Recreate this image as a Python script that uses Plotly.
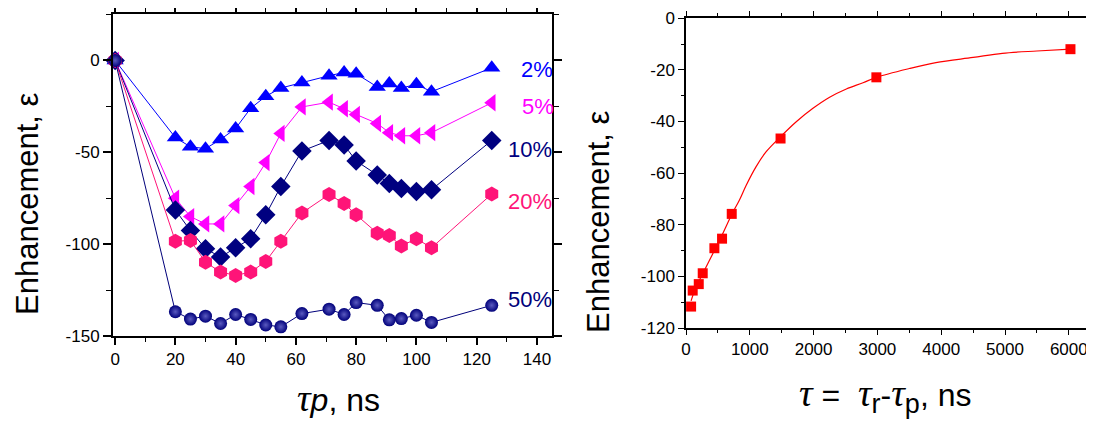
import plotly.graph_objects as go

# ---------------- data: left panel ----------------
tau_p = [0, 20, 25, 30, 35, 40, 45, 50, 55, 62, 71, 76, 80, 87, 91, 95, 100, 105, 125]
eps_2 = [0, -42, -47, -48, -43, -37, -26, -19.5, -15, -12, -8.3, -6.5, -7.2, -14.4, -12.5, -15, -13, -17, -4]
eps_5 = [0, -75, -85, -89, -89, -79, -68.6, -55.6, -39.7, -25.3, -22.7, -26.3, -29.4, -34.3, -39.3, -41, -41, -39.3, -23]
eps_10 = [0, -81.4, -92.6, -102.5, -107, -102, -97, -84, -68.6, -49.3, -43.5, -46, -54.7, -62.3, -67, -69.7, -71.3, -70.4, -43.5]
eps_20 = [0, -98.4, -98, -109.8, -115.2, -117, -115.2, -109.4, -98.4, -83, -73, -77.8, -84, -94, -95.3, -101, -97, -102, -72.7]
eps_50 = [0, -136.8, -140.8, -139.2, -143.2, -138.3, -141, -144, -145, -137.8, -135.4, -138.3, -131.8, -133.3, -141.2, -140.5, -138.7, -142.6, -133.3]
series_names = ["2%", "5%", "10%", "20%", "50%"]

# ---------------- data: right panel ----------------
tau = [80, 105, 200, 262, 445, 565, 717, 1482, 2984, 6026]
eps_tau = [-111.7, -105.5, -103, -98.8, -89.1, -85.4, -75.8, -46.6, -22.9, -12]
fit_x = [80, 150, 262, 445, 565, 717, 838, 942, 1099, 1257, 1482, 1728, 1990, 2251, 2513,
         2775, 2984, 3500, 3917, 4500, 4958, 5500, 6026]
fit_y = [-109.5, -104.5, -99, -90, -84, -76, -70.4, -64.8, -57.5, -51.7, -45.9, -40.1, -34.9,
         -30.6, -27.4, -25, -22.9, -19.5, -17.2, -15.2, -13.6, -12.7, -12]

left_yticks = [0, -50, -100, -150]
left_xticks = [0, 20, 40, 60, 80, 100, 120, 140]
right_yticks = [0, -20, -40, -60, -80, -100, -120]
right_xticks = [0, 1000, 2000, 3000, 4000, 5000, 6000]

FONT = "Liberation Sans, Arial, sans-serif"

styles = [
    dict(symbol="triangle-up", color="#0000FF", size=15),
    dict(symbol="triangle-left", color="#FF00FF", size=15),
    dict(symbol="diamond", color="#000080", size=15),
    dict(symbol="hexagon", color="#FF1478", size=15),
    dict(symbol="circle", color="#00007A", size=13),
]
ys = [eps_2, eps_5, eps_10, eps_20, eps_50]

fig = go.Figure()
for name, y, st in zip(series_names, ys, styles):
    marker = dict(symbol=st["symbol"], color=st["color"], size=st["size"], line=dict(width=0))
    if st["symbol"] == "circle":
        marker["gradient"] = dict(type="radial", color="#5A5AC0")
    fig.add_trace(go.Scatter(
        x=tau_p, y=y, mode="lines+markers", name=name,
        line=dict(color=st["color"], width=1), marker=marker,
        xaxis="x", yaxis="y", showlegend=False, cliponaxis=False))

fig.add_trace(go.Scatter(x=fit_x, y=fit_y, mode="lines", line=dict(color="#FF0000", width=1.2, shape="spline"),
                         xaxis="x2", yaxis="y2", showlegend=False))
fig.add_trace(go.Scatter(x=tau, y=eps_tau, mode="markers",
                         marker=dict(symbol="square", color="#FF0000", size=10),
                         xaxis="x2", yaxis="y2", showlegend=False, cliponaxis=False))

W, H = 1094, 425
OFF = 8  # page body margin offset in the browser


def px(v):
    return (v - OFF) / W


def py(v):
    return 1 - (v - OFF) / H


axis_common = dict(showgrid=False, zeroline=False, linecolor="black", showline=True,
                   ticks="outside", tickcolor="black", automargin=False,
                   tickfont=dict(family=FONT, size=17, color="black"))

fig.update_layout(
    template="none",
    width=W, height=H, margin=dict(l=0, r=0, t=0, b=0, pad=0),
    paper_bgcolor="white", plot_bgcolor="white",
    xaxis=dict(axis_common, domain=[px(113), px(552)], range=[-0.7, 145], anchor="y",
               tickvals=left_xticks, ticktext=[str(v) for v in left_xticks],
               linewidth=2, tickwidth=1.5, ticklen=7, mirror="ticks",
               minor=dict(dtick=10, tick0=0, ticklen=4, ticks="outside", tickcolor="black", tickwidth=1)),
    yaxis=dict(axis_common, domain=[py(336), py(14)], range=[-150, 25.3], anchor="x",
               tickvals=left_yticks, ticktext=[str(v) for v in left_yticks],
               linewidth=2, tickwidth=1.5, ticklen=8, mirror="ticks",
               minor=dict(dtick=25, tick0=0, ticklen=5, ticks="outside", tickcolor="black", tickwidth=1)),
    xaxis2=dict(axis_common, domain=[px(686), px(1094)], range=[0, 6395], anchor="y2",
                tickvals=right_xticks, ticktext=[str(v) for v in right_xticks],
                linewidth=1.5, tickwidth=1, ticklen=5, mirror="ticks",
                minor=dict(dtick=500, tick0=0, ticklen=3, ticks="outside", tickcolor="black", tickwidth=1)),
    yaxis2=dict(axis_common, domain=[py(328), py(18.2)], range=[-120, 0], anchor="x2",
                tickvals=right_yticks, ticktext=[str(v) for v in right_yticks],
                linewidth=1.5, tickwidth=1, ticklen=6, mirror=False,
                minor=dict(dtick=10, tick0=0, ticklen=3, ticks="outside", tickcolor="black", tickwidth=1)),
)

annotations = []
label_y = [-5, -25, -48.5, -77, -130]
label_x = [537, 538, 530, 530, 530]
for name, yv, xv, st in zip(series_names, label_y, label_x, styles):
    annotations.append(dict(x=px(xv), xref="paper", y=yv, yref="y", text=name, showarrow=False,
                            xanchor="center", yanchor="middle",
                            font=dict(family=FONT, size=22, color=st["color"])))

TAU = '<span style="font-family:Liberation Serif, DejaVu Serif, serif;font-size:38px"><i>τ</i></span>'
SUB = '<sub><span style="font-size:27px">{}</span></sub>'
annotations += [
    dict(x=px(27), xref="paper", y=py(204), yref="paper", text="Enhancement, ε", textangle=-90,
         showarrow=False, xanchor="center", yanchor="middle", font=dict(family=FONT, size=31, color="black")),
    dict(x=px(598), xref="paper", y=py(222), yref="paper", text="Enhancement, ε", textangle=-90,
         showarrow=False, xanchor="center", yanchor="middle", font=dict(family=FONT, size=31, color="black")),
    dict(x=px(338), xref="paper", y=py(398), yref="paper",
         text=TAU + "<i>p</i>, ns", showarrow=False, xanchor="center", yanchor="middle",
         font=dict(family=FONT, size=32, color="black")),
    dict(x=px(885), xref="paper", y=py(395), yref="paper",
         text=TAU + " =  " + TAU + SUB.format("r") + "-" + TAU + SUB.format("p") + ", ns", showarrow=False,
         xanchor="center", yanchor="middle", font=dict(family=FONT, size=32, color="black")),
]
fig.update_layout(annotations=annotations)

fig.write_html("out.html")
